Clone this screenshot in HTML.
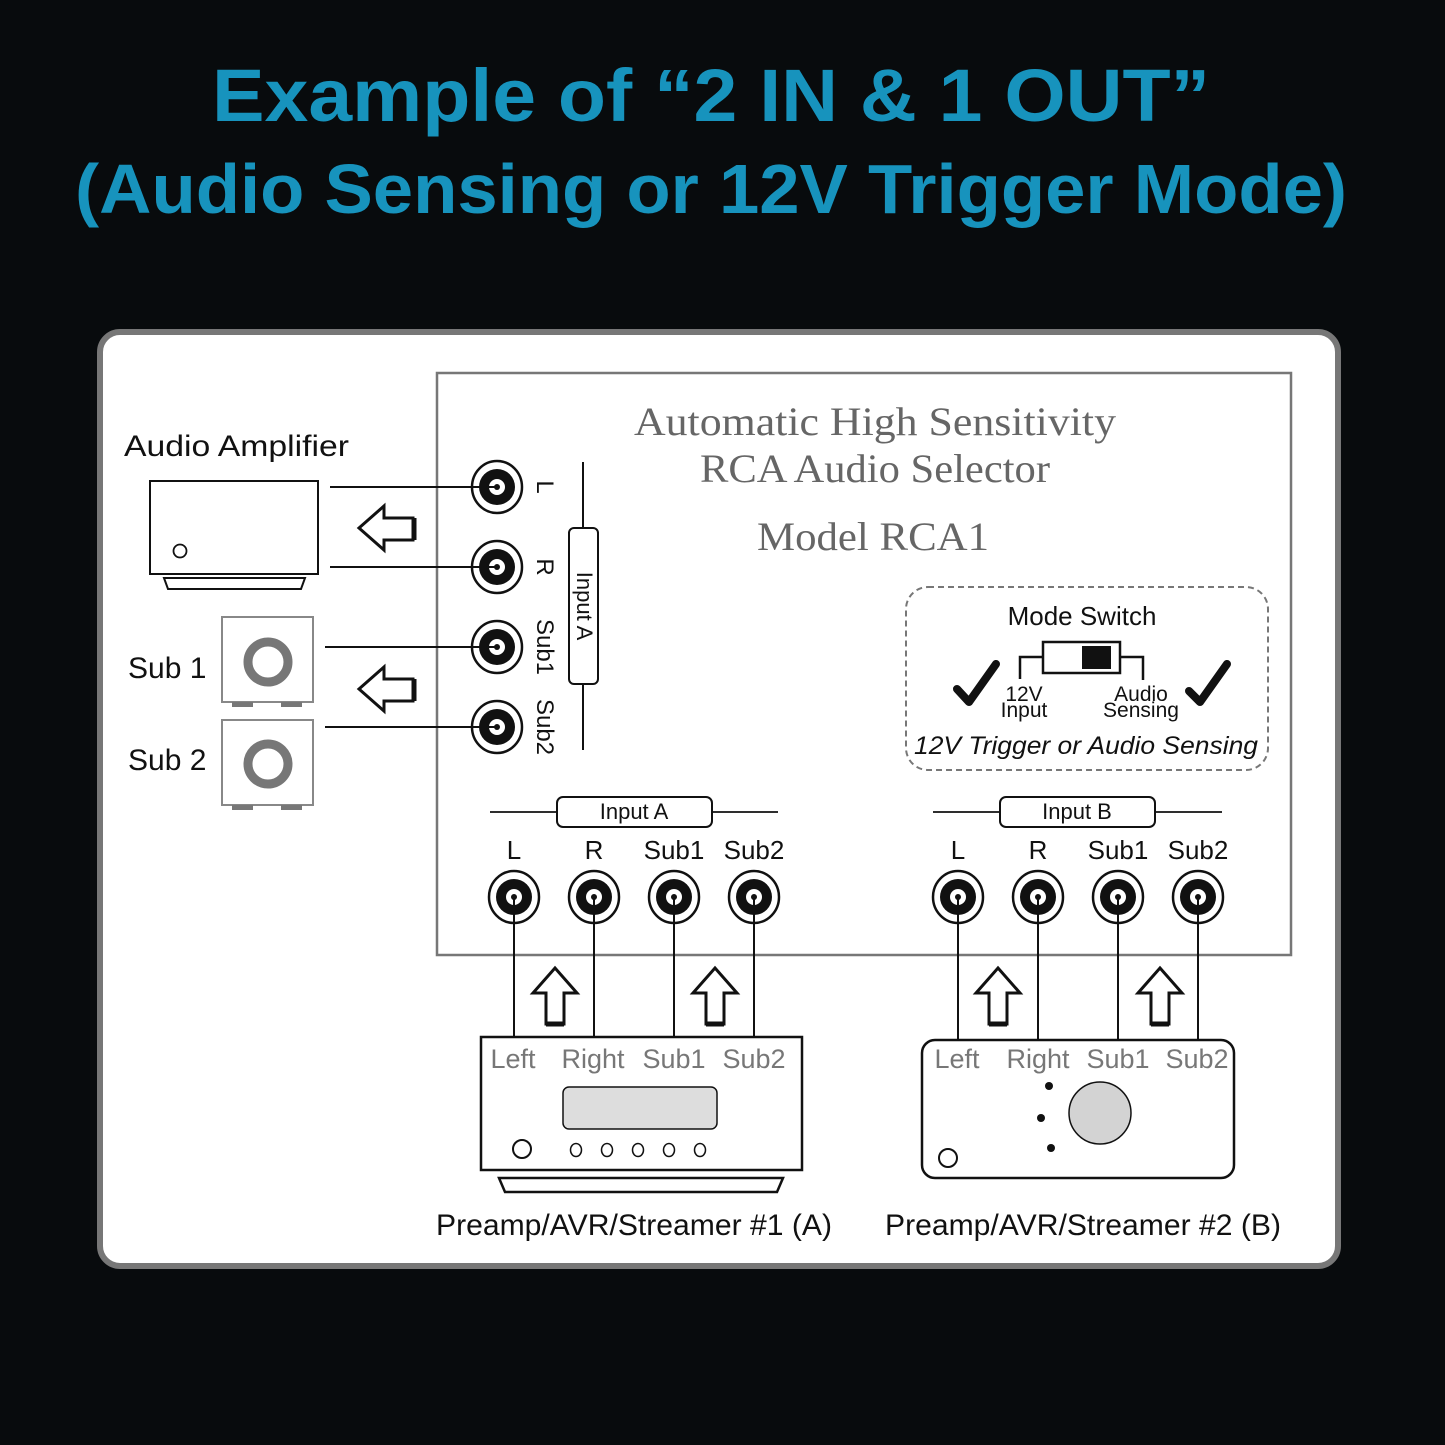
<!DOCTYPE html>
<html><head><meta charset="utf-8"><style>
html,body{margin:0;padding:0;background:#080b0d;}
svg{display:block}
</style></head><body>
<svg width="1445" height="1445" viewBox="0 0 1445 1445" xmlns="http://www.w3.org/2000/svg" font-family="Liberation Sans, sans-serif">
<rect width="1445" height="1445" fill="#080b0d"/>
<text x="711" y="121" text-anchor="middle" font-size="74" font-weight="bold" fill="#1793bd" textLength="998" lengthAdjust="spacingAndGlyphs">Example of “2 IN &amp; 1 OUT”</text>
<text x="711" y="213" text-anchor="middle" font-size="70" font-weight="bold" fill="#1793bd" textLength="1272" lengthAdjust="spacingAndGlyphs">(Audio Sensing or 12V Trigger Mode)</text>

<rect x="100" y="332" width="1238" height="934" rx="20" fill="#fff" stroke="#777" stroke-width="6"/>
<rect x="437" y="373" width="854" height="582" fill="none" stroke="#777" stroke-width="2.5"/>

<g fill="#666" font-family="Liberation Serif, serif" text-anchor="middle" font-size="40">
<text x="875" y="435" textLength="482" lengthAdjust="spacingAndGlyphs">Automatic High Sensitivity</text>
<text x="875" y="482" textLength="350" lengthAdjust="spacingAndGlyphs">RCA Audio Selector</text>
<text x="873" y="550" textLength="232" lengthAdjust="spacingAndGlyphs">Model RCA1</text>
</g>

<text x="124" y="456" font-size="30" fill="#111" textLength="225" lengthAdjust="spacingAndGlyphs">Audio Amplifier</text>
<text x="128" y="678" font-size="30" fill="#111">Sub 1</text>
<text x="128" y="770" font-size="30" fill="#111">Sub 2</text>

<!-- amp -->
<rect x="150" y="481" width="168" height="93" fill="#fff" stroke="#111" stroke-width="2"/>
<circle cx="180" cy="551" r="6.5" fill="none" stroke="#111" stroke-width="1.8"/>
<polygon points="164,578 305,578 301,589 168,589" fill="none" stroke="#111" stroke-width="2"/>

<!-- subs -->
<g stroke="#888" stroke-width="2" fill="#fff">
<rect x="222" y="617" width="91" height="85"/>
<rect x="222" y="720" width="91" height="85"/>
</g>
<g fill="#777">
<rect x="232" y="702" width="21" height="5"/><rect x="281" y="702" width="21" height="5"/>
<rect x="232" y="805" width="21" height="5"/><rect x="281" y="805" width="21" height="5"/>
</g>
<circle cx="268" cy="662" r="20" fill="none" stroke="#777" stroke-width="9"/>
<circle cx="268" cy="764" r="20" fill="none" stroke="#777" stroke-width="9"/>

<defs>
<g id="jack">
<ellipse cx="0" cy="0" rx="25" ry="26" fill="#fff" stroke="#111" stroke-width="2.5"/>
<circle cx="0" cy="0" r="18" fill="#111"/>
<circle cx="0" cy="0" r="8" fill="#fff"/>
<circle cx="0" cy="0" r="3" fill="#111"/>
</g>
<g id="larrow">
<polygon points="0,0 25,-22 25,-10 54,-10 54,12 25,12 25,22" fill="#fff" stroke="#111" stroke-width="3" stroke-linejoin="miter"/>
<line x1="55" y1="-10" x2="55" y2="12" stroke="#111" stroke-width="5"/>
</g>
<g id="uarrow">
<polygon points="0,0 22,25 9,25 9,56 -9,56 -9,25 -22,25" fill="#fff" stroke="#111" stroke-width="3"/>
<line x1="-9" y1="56" x2="9" y2="56" stroke="#111" stroke-width="5"/>
</g>
</defs>

<use href="#jack" x="497" y="487"/>
<use href="#jack" x="497" y="567"/>
<use href="#jack" x="497" y="647"/>
<use href="#jack" x="497" y="727"/>

<!-- lines to left jacks -->
<g stroke="#111" stroke-width="2">
<line x1="330" y1="487" x2="497" y2="487"/>
<line x1="330" y1="567" x2="497" y2="567"/>
<line x1="325" y1="647" x2="497" y2="647"/>
<line x1="325" y1="727" x2="497" y2="727"/>
<line x1="583" y1="462" x2="583" y2="528"/>
<line x1="583" y1="684" x2="583" y2="750"/>
</g>
<rect x="569" y="528" width="29" height="156" rx="5" fill="#fff" stroke="#111" stroke-width="2"/>
<text transform="translate(577,606) rotate(90)" text-anchor="middle" font-size="22" fill="#111">Input A</text>
<g font-size="24" fill="#111">
<text transform="translate(537,487) rotate(90)" text-anchor="middle">L</text>
<text transform="translate(537,567) rotate(90)" text-anchor="middle">R</text>
<text transform="translate(537,647) rotate(90)" text-anchor="middle">Sub1</text>
<text transform="translate(537,727) rotate(90)" text-anchor="middle">Sub2</text>
</g>

<use href="#larrow" x="359" y="528"/>
<use href="#larrow" x="359" y="689"/>

<!-- mode switch -->
<rect x="906" y="587" width="362" height="183" rx="22" fill="none" stroke="#777" stroke-width="2" stroke-dasharray="6,4"/>
<text x="1082" y="625" text-anchor="middle" font-size="26" fill="#111">Mode Switch</text>
<rect x="1043" y="642" width="77" height="31" fill="#fff" stroke="#111" stroke-width="2.5"/>
<rect x="1082" y="646" width="29" height="23" fill="#111"/>
<polyline points="1043,657 1020,657 1020,679" fill="none" stroke="#111" stroke-width="2.5"/>
<polyline points="1120,657 1143,657 1143,680" fill="none" stroke="#111" stroke-width="2.5"/>
<polyline points="957,689 969,702 996,664" fill="none" stroke="#111" stroke-width="8" stroke-linecap="round" stroke-linejoin="round"/>
<polyline points="1189,691 1200,702 1227,664" fill="none" stroke="#111" stroke-width="8" stroke-linecap="round" stroke-linejoin="round"/>
<g font-size="21" fill="#111" text-anchor="middle">
<text x="1024" y="701">12V</text>
<text x="1024" y="717">Input</text>
<text x="1141" y="701">Audio</text>
<text x="1141" y="717">Sensing</text>
</g>
<text x="1086" y="754" text-anchor="middle" font-size="25" font-style="italic" fill="#111" textLength="344" lengthAdjust="spacingAndGlyphs">12V Trigger or Audio Sensing</text>

<!-- input labels -->
<g stroke="#111" stroke-width="1.8">
<line x1="490" y1="812" x2="557" y2="812"/><line x1="712" y1="812" x2="778" y2="812"/>
<line x1="933" y1="812" x2="1000" y2="812"/><line x1="1155" y1="812" x2="1222" y2="812"/>
</g>
<rect x="557" y="797" width="155" height="30" rx="6" fill="#fff" stroke="#111" stroke-width="2"/>
<rect x="1000" y="797" width="155" height="30" rx="6" fill="#fff" stroke="#111" stroke-width="2"/>
<g font-size="22" fill="#111" text-anchor="middle">
<text x="634" y="819">Input A</text>
<text x="1077" y="819">Input B</text>
</g>
<g font-size="26" fill="#111" text-anchor="middle">
<text x="514" y="859">L</text><text x="594" y="859">R</text><text x="674" y="859">Sub1</text><text x="754" y="859">Sub2</text>
<text x="958" y="859">L</text><text x="1038" y="859">R</text><text x="1118" y="859">Sub1</text><text x="1198" y="859">Sub2</text>
</g>

<use href="#jack" x="514" y="897"/><use href="#jack" x="594" y="897"/>
<use href="#jack" x="674" y="897"/><use href="#jack" x="754" y="897"/>
<use href="#jack" x="958" y="897"/><use href="#jack" x="1038" y="897"/>
<use href="#jack" x="1118" y="897"/><use href="#jack" x="1198" y="897"/>
<g stroke="#111" stroke-width="2">
<line x1="514" y1="897" x2="514" y2="1037"/><line x1="594" y1="897" x2="594" y2="1037"/>
<line x1="674" y1="897" x2="674" y2="1037"/><line x1="754" y1="897" x2="754" y2="1037"/>
<line x1="958" y1="897" x2="958" y2="1040"/><line x1="1038" y1="897" x2="1038" y2="1040"/>
<line x1="1118" y1="897" x2="1118" y2="1040"/><line x1="1198" y1="897" x2="1198" y2="1040"/>
</g>
<use href="#uarrow" x="555" y="968"/><use href="#uarrow" x="715" y="968"/>
<use href="#uarrow" x="998" y="968"/><use href="#uarrow" x="1160" y="968"/>

<!-- device A -->
<rect x="481" y="1037" width="321" height="133" fill="#fff" stroke="#111" stroke-width="2.5"/>
<polygon points="499,1178 783,1178 777,1192 505,1192" fill="none" stroke="#111" stroke-width="2.5"/>
<rect x="563" y="1087" width="154" height="42" rx="6" fill="#ddd" stroke="#111" stroke-width="1.5"/>
<circle cx="522" cy="1149" r="9" fill="none" stroke="#111" stroke-width="2"/>
<g fill="none" stroke="#111" stroke-width="1.5">
<ellipse cx="576" cy="1150" rx="5.5" ry="6.5"/><ellipse cx="607" cy="1150" rx="5.5" ry="6.5"/>
<ellipse cx="638" cy="1150" rx="5.5" ry="6.5"/><ellipse cx="669" cy="1150" rx="5.5" ry="6.5"/>
<ellipse cx="700" cy="1150" rx="5.5" ry="6.5"/>
</g>
<g font-size="27" fill="#777" text-anchor="middle">
<text x="513" y="1068">Left</text><text x="593" y="1068">Right</text><text x="674" y="1068">Sub1</text><text x="754" y="1068">Sub2</text>
</g>

<!-- device B -->
<rect x="922" y="1040" width="312" height="138" rx="13" fill="#fff" stroke="#111" stroke-width="2.5"/>
<ellipse cx="1100" cy="1113" rx="31" ry="31" fill="#d3d3d3" stroke="#111" stroke-width="1.5"/>
<circle cx="1049" cy="1086" r="4" fill="#111"/><circle cx="1041" cy="1118" r="4" fill="#111"/><circle cx="1051" cy="1148" r="4" fill="#111"/>
<circle cx="948" cy="1158" r="9" fill="none" stroke="#111" stroke-width="2"/>
<g font-size="27" fill="#777" text-anchor="middle">
<text x="957" y="1068">Left</text><text x="1038" y="1068">Right</text><text x="1118" y="1068">Sub1</text><text x="1197" y="1068">Sub2</text>
</g>

<g font-size="30" fill="#111" text-anchor="middle">
<text x="634" y="1235" textLength="396" lengthAdjust="spacingAndGlyphs">Preamp/AVR/Streamer #1 (A)</text>
<text x="1083" y="1235" textLength="396" lengthAdjust="spacingAndGlyphs">Preamp/AVR/Streamer #2 (B)</text>
</g>
</svg>
</body></html>
